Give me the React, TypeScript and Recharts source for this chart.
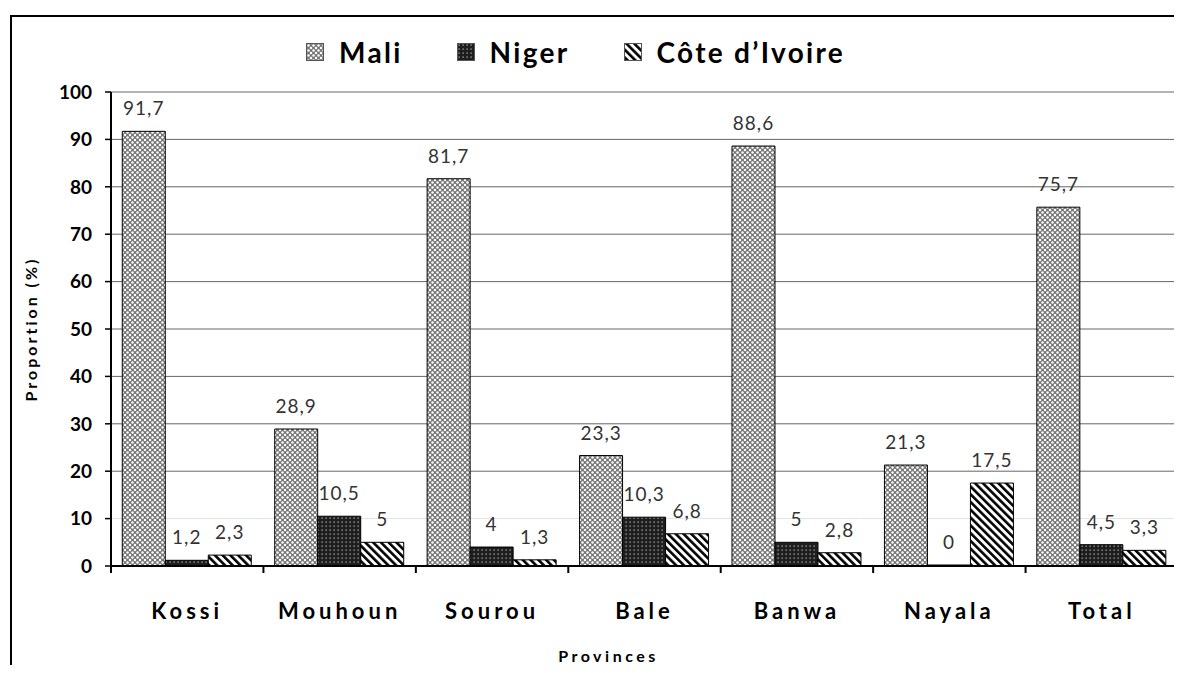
import React from "react";
import { BarChart, Bar, XAxis, YAxis, CartesianGrid, LabelList, Label } from "recharts";

// valeurs
const provinces = ["Kossi", "Mouhoun", "Sourou", "Bale", "Banwa", "Nayala", "Total"];
const mali = [91.7, 28.9, 81.7, 23.3, 88.6, 21.3, 75.7];
const niger = [1.2, 10.5, 4, 10.3, 5, 0, 4.5];
const coteIvoire = [2.3, 5, 1.3, 6.8, 2.8, 17.5, 3.3];
const yTicks = [0, 10, 20, 30, 40, 50, 60, 70, 80, 90, 100];

const series = [
  { key: "mali", name: "Mali", fill: "url(#pat-mali)" },
  { key: "niger", name: "Niger", fill: "url(#pat-niger)" },
  { key: "ci", name: "Côte d\u2019Ivoire", fill: "url(#pat-ci)" },
];

const data = provinces.map((p, i) => ({
  province: p,
  mali: mali[i],
  niger: niger[i],
  ci: coteIvoire[i],
}));

const FONT = "Lato, 'Open Sans', sans-serif";

const fmt = (v: any) => String(v).replace(".", ",");

// barre de valeur nulle : 1px pour garder l'étiquette "0"
const minSize = (v: any) => (v === 0 ? 1 : 0);

const Patterns = () => (
  <svg width={0} height={0} style={{ position: "absolute" }}>
    <defs>
      <pattern id="pat-mali" patternUnits="userSpaceOnUse" width={5} height={5}>
        <rect width={5} height={5} fill="#757575" />
        <circle cx={0} cy={0} r={1.25} fill="#fff" />
        <circle cx={5} cy={0} r={1.25} fill="#fff" />
        <circle cx={0} cy={5} r={1.25} fill="#fff" />
        <circle cx={5} cy={5} r={1.25} fill="#fff" />
        <circle cx={2.5} cy={2.5} r={1.25} fill="#fff" />
      </pattern>
      <pattern id="pat-niger" patternUnits="userSpaceOnUse" width={4} height={4}>
        <rect width={4} height={4} fill="#1e1e1e" />
        <rect x={1.5} y={1.5} width={1.2} height={1.2} fill="#bdbdbd" />
      </pattern>
      <pattern
        id="pat-ci"
        patternUnits="userSpaceOnUse"
        width={5.5}
        height={5.5}
        patternTransform="rotate(-45)"
      >
        <rect width={5.5} height={5.5} fill="#fff" />
        <rect width={2.6} height={5.5} fill="#000" />
      </pattern>
    </defs>
  </svg>
);

const gridLine = (p: any) => (
  <line
    key={p.key}
    x1={p.x1}
    y1={p.y1}
    x2={p.x2}
    y2={p.y2}
    stroke={p.index === 1 ? "#e2e2e2" : "#666"}
    strokeWidth={1}
  />
);

const CategoryTick = (props: any) => {
  const { x, y, payload, index, visibleTicksCount } = props;
  const half = payload?.offset ?? 0;
  const last = index === visibleTicksCount - 1;
  return (
    <g>
      <line x1={x - half} x2={x - half} y1={y} y2={y + 7} stroke="#000" strokeWidth={2} />
      {last && <line x1={x + half} x2={x + half} y1={y} y2={y + 7} stroke="#000" strokeWidth={2} />}
      <text
        x={x}
        y={y + 53}
        textAnchor="middle"
        fill="#000"
        fontFamily={FONT}
        fontWeight="bold"
        fontSize={22}
        letterSpacing={4}
      >
        {payload.value}
      </text>
    </g>
  );
};

export default function App() {
  return (
    <div style={{ position: "relative", width: 1182, height: 673, margin: -8, background: "#fff", overflow: "hidden" }}>
      <Patterns />
      <div
        style={{
          position: "absolute",
          left: 10,
          top: 15,
          width: 1200,
          height: 700,
          borderLeft: "2px solid #000",
          borderTop: "2px solid #000",
        }}
      />

      <div
        style={{
          position: "absolute",
          left: 306,
          top: 38,
          display: "flex",
          alignItems: "center",
          gap: 54,
          fontFamily: FONT,
          fontWeight: "bold",
          fontSize: 28,
          lineHeight: "28px",
          letterSpacing: 2.3,
          color: "#000",
          whiteSpace: "nowrap",
        }}
      >
        {series.map((s) => (
          <div key={s.key} style={{ display: "flex", alignItems: "center", gap: 15 }}>
            <svg width={18} height={18}>
              <rect x={0.5} y={0.5} width={17} height={17} fill={s.fill} stroke="#555" />
            </svg>
            <span>{s.name}</span>
          </div>
        ))}
      </div>

      <div style={{ position: "absolute", left: 0, top: 0 }}>
        <BarChart
          width={1182}
          height={673}
          data={data}
          margin={{ top: 92, right: 0, left: 20, bottom: 27 }}
          barCategoryGap="7.4%"
          barGap={0}
        >
          <CartesianGrid yAxisId="left" horizontal={gridLine} vertical={false} />
          <XAxis
            dataKey="province"
            interval={0}
            height={80}
            tickSize={0}
            tickMargin={0}
            tickLine={false}
            axisLine={{ stroke: "#000", strokeWidth: 2 }}
            tick={<CategoryTick />}
          >
            <Label
              value="Provinces"
              position="insideBottom"
              offset={-16}
              dx={-36}
              style={{ fontFamily: FONT, fontWeight: "bold", fontSize: 16, letterSpacing: 3.5, fill: "#000" }}
            />
          </XAxis>
          <YAxis
            yAxisId="left"
            width={91}
            domain={[0, 100]}
            ticks={yTicks}
            interval={0}
            tickSize={6}
            tickMargin={13}
            axisLine={{ stroke: "#000", strokeWidth: 2 }}
            tickLine={{ stroke: "#000", strokeWidth: 1.5 }}
            tick={{ fill: "#000", fontFamily: FONT, fontWeight: "bold", fontSize: 19 }}
          >
            <Label
              value="Proportion (%)"
              angle={-90}
              position="insideLeft"
              offset={11}
              style={{ textAnchor: "middle", fontFamily: FONT, fontWeight: "bold", fontSize: 16, letterSpacing: 3, fill: "#000" }}
            />
          </YAxis>
          <YAxis
            yAxisId="right"
            orientation="right"
            width={4}
            domain={[0, 100]}
            tick={false}
            tickLine={false}
            axisLine={{ stroke: "#7a7a7a", strokeWidth: 1.5 }}
          />
          {series.map((s) => (
            <Bar
              key={s.key}
              yAxisId="left"
              dataKey={s.key}
              name={s.name}
              fill={s.fill}
              stroke="#000"
              strokeWidth={1}
              minPointSize={minSize}
              isAnimationActive={false}
            >
              <LabelList
                dataKey={s.key}
                position="top"
                offset={16}
                formatter={fmt}
                fill="#333"
                fontSize={19}
                fontFamily={FONT}
                letterSpacing={1}
              />
            </Bar>
          ))}
        </BarChart>
      </div>
    </div>
  );
}
